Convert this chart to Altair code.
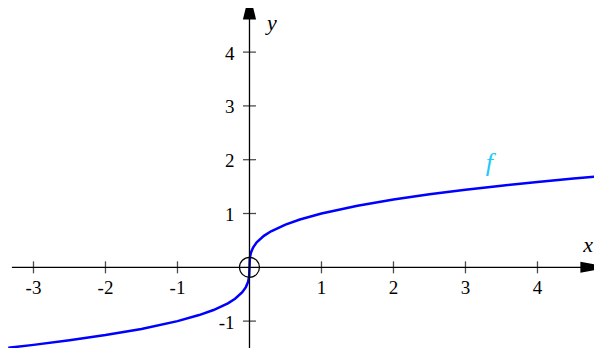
import altair as alt
import pandas as pd

# Curve f (x, y pairs)
curve_x = [-3.35, -3.0, -2.5, -2.0, -1.5, -1.0, -0.7, -0.5, -0.3, -0.2, -0.1, -0.05,
           -0.02, -0.005, 0.0, 0.005, 0.02, 0.05, 0.1, 0.2, 0.3, 0.5, 0.7, 1.0, 1.5,
           2.0, 2.5, 3.0, 3.5, 4.0, 4.5, 4.9]
curve_y = [-1.496, -1.442, -1.357, -1.260, -1.145, -1.0, -0.888, -0.794, -0.669, -0.585,
           -0.464, -0.368, -0.271, -0.171, 0.0, 0.171, 0.271, 0.368, 0.464, 0.585, 0.669,
           0.794, 0.888, 1.0, 1.145, 1.260, 1.357, 1.442, 1.518, 1.587, 1.651, 1.698]

x_ticks = [-3, -2, -1, 1, 2, 3, 4]
y_ticks = [-1, 1, 2, 3, 4]
x_tick_labels = ["-3", "-2", "-1", "1", "2", "3", "4"]
y_tick_labels = ["-1", "1", "2", "3", "4"]

x_domain = [-3.354, 4.785]
y_domain = [-1.500, 4.820]
x_axis_span = [-3.30, 4.70]
y_axis_span = [-1.500, 4.70]
x_arrow = [4.70, 0.0]
y_arrow = [0.0, 4.72]

fname = ["f"]
f_pos = [3.33, 1.94]
xname_pos = [4.785, 0.414]
yname_pos = [0.31, 4.54]

xs = alt.Scale(domain=x_domain, nice=False, zero=False)
ys = alt.Scale(domain=y_domain, nice=False, zero=False)
X = lambda f: alt.X(f, type="quantitative", scale=xs, axis=None)
Y = lambda f: alt.Y(f, type="quantitative", scale=ys, axis=None)

serif = "Liberation Serif"

curve_df = pd.DataFrame({"x": curve_x, "y": curve_y})
curve = alt.Chart(curve_df).mark_line(color="#0000FF", strokeWidth=2.5, clip=True).encode(
    x=X("x"), y=Y("y"), order="x:Q")

xaxis_df = pd.DataFrame({"x": [x_axis_span[0]], "x2": [x_axis_span[1]], "y": [0.0]})
xaxis = alt.Chart(xaxis_df).mark_rule(color="black", strokeWidth=1.3).encode(
    x=X("x"), x2="x2", y=Y("y"))
yaxis_df = pd.DataFrame({"y": [y_axis_span[0]], "y2": [y_axis_span[1]], "x": [0.0]})
yaxis = alt.Chart(yaxis_df).mark_rule(color="black", strokeWidth=1.3).encode(
    y=Y("y"), y2="y2", x=X("x"))

xt_df = pd.DataFrame({"x": x_ticks, "y": [0.0] * len(x_ticks), "label": x_tick_labels})
xt = alt.Chart(xt_df).mark_tick(orient="vertical", size=12, thickness=1.3, color="black").encode(
    x=X("x"), y=Y("y"))
xtl = alt.Chart(xt_df).mark_text(font=serif, fontSize=19, dy=21, align="center",
                                 baseline="middle", color="black").encode(
    x=X("x"), y=Y("y"), text="label")

yt_df = pd.DataFrame({"y": y_ticks, "x": [0.0] * len(y_ticks), "label": y_tick_labels})
yt = alt.Chart(yt_df).mark_tick(orient="horizontal", size=13, thickness=1.3, color="black").encode(
    x=X("x"), y=Y("y"))
ytl = alt.Chart(yt_df).mark_text(font=serif, fontSize=19, dx=-15, dy=1.5, align="right",
                                 baseline="middle", color="black").encode(
    x=X("x"), y=Y("y"), text="label")

arrow_r = alt.Chart(pd.DataFrame({"x": [x_arrow[0]], "y": [x_arrow[1]]})).mark_point(
    shape="M-1,-0.73L1,-0.36L1,0.36L-1,0.73Z", size=225, filled=True, color="black",
    opacity=1, strokeWidth=0).encode(x=X("x"), y=Y("y"))
arrow_t = alt.Chart(pd.DataFrame({"x": [y_arrow[0]], "y": [y_arrow[1]]})).mark_point(
    shape="M-0.6,-1L0.6,-1L1.1,1L-1.1,1Z", size=144, filled=True, color="black",
    opacity=1, strokeWidth=0).encode(x=X("x"), y=Y("y"))

origin = alt.Chart(pd.DataFrame({"x": [0.0], "y": [0.0]})).mark_point(
    shape="circle", size=400, filled=False, color="black", strokeWidth=1.2, opacity=1).encode(
    x=X("x"), y=Y("y"))

flab = alt.Chart(pd.DataFrame({"x": [f_pos[0]], "y": [f_pos[1]], "t": fname})).mark_text(
    font=serif, fontSize=26, fontStyle="italic", color="#22C8F8", baseline="middle",
    align="center").encode(x=X("x"), y=Y("y"), text="t")
xlab = alt.Chart(pd.DataFrame({"x": [xname_pos[0]], "y": [xname_pos[1]], "t": ["x"]})).mark_text(
    font=serif, fontSize=22, fontStyle="italic", color="black", baseline="middle",
    align="right", dx=-1).encode(x=X("x"), y=Y("y"), text="t")
ylab = alt.Chart(pd.DataFrame({"x": [yname_pos[0]], "y": [yname_pos[1]], "t": ["y"]})).mark_text(
    font=serif, fontSize=22, fontStyle="italic", color="black", baseline="middle",
    align="center").encode(x=X("x"), y=Y("y"), text="t")

chart = alt.layer(curve, xaxis, yaxis, xt, xtl, yt, ytl, arrow_r, arrow_t, origin,
                  flab, xlab, ylab).properties(
    width=586, height=340, autosize=alt.AutoSizeParams(type="none"), padding=0,
    background="white"
).configure_view(strokeWidth=0)

chart.save("out.html", embed_options={"renderer": "svg", "actions": False})
